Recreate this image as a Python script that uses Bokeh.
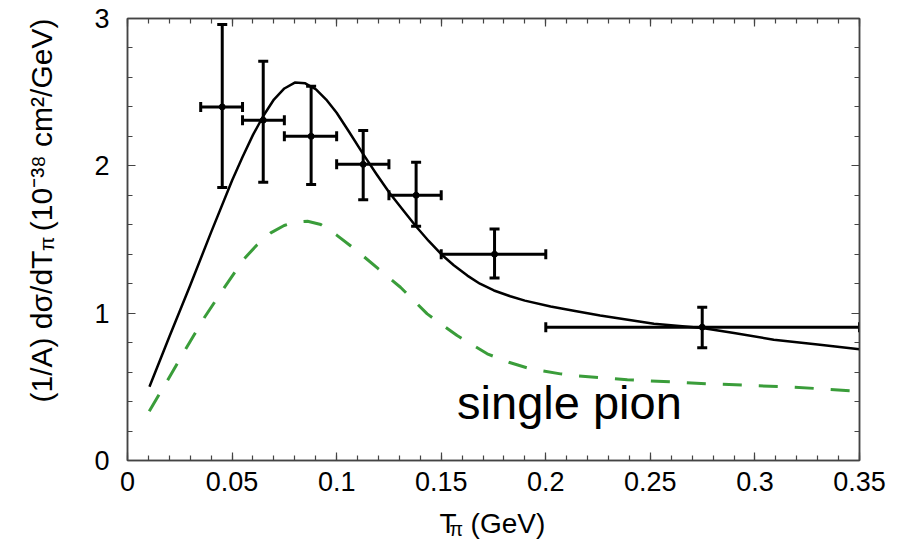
import math
from bokeh.plotting import figure
from bokeh.models import (Range1d, LinearAxis, FixedTicker, Label, Whisker, TeeHead,
                          ColumnDataSource, CustomJSTickFormatter)
from bokeh.embed import file_html
from bokeh.resources import INLINE

# ---------------- data ----------------
x_ticks = [0, 0.05, 0.1, 0.15, 0.2, 0.25, 0.3, 0.35]
x_minor = [round(i * 0.01, 2) for i in range(36)]
y_ticks = [0, 1, 2, 3]
y_minor = [round(i * 0.2, 1) for i in range(16)]

pt_x = [0.0453, 0.0649, 0.0878, 0.1127, 0.138, 0.1755, 0.2748]
pt_y = [2.40, 2.31, 2.20, 2.01, 1.80, 1.40, 0.905]
pt_y_hi = [2.96, 2.71, 2.54, 2.24, 2.025, 1.572, 1.04]
pt_y_lo = [1.853, 1.889, 1.873, 1.77, 1.59, 1.238, 0.765]
pt_x_lo = [0.035, 0.055, 0.075, 0.10, 0.125, 0.15, 0.20]
pt_x_hi = [0.055, 0.075, 0.10, 0.125, 0.15, 0.20, 0.35]

total_x = [0.0105, 0.02, 0.03, 0.04, 0.05, 0.055, 0.06, 0.065, 0.07, 0.075, 0.08, 0.085,
           0.09, 0.095, 0.1, 0.106, 0.1127, 0.119, 0.1254, 0.132, 0.138, 0.144, 0.15,
           0.156, 0.1625, 0.1685, 0.1752, 0.183, 0.19, 0.2023, 0.214, 0.226, 0.2517,
           0.2748, 0.29, 0.309, 0.33, 0.35]
total_y = [0.50, 0.84, 1.19, 1.55, 1.90, 2.06, 2.21, 2.34, 2.45, 2.525, 2.565, 2.56,
           2.52, 2.45, 2.36, 2.23, 2.08, 1.945, 1.814, 1.695, 1.588, 1.49, 1.40,
           1.325, 1.255, 1.20, 1.154, 1.115, 1.085, 1.045, 1.015, 0.984, 0.928,
           0.90, 0.865, 0.82, 0.788, 0.755]

single_x = [0.0104, 0.0191, 0.0279, 0.0367, 0.0462, 0.0558, 0.062, 0.0685, 0.0749, 0.08,
            0.0861, 0.0924, 0.1, 0.11, 0.12, 0.1305, 0.1433, 0.1576, 0.172, 0.1827, 0.1927,
            0.207, 0.2134, 0.239, 0.2788, 0.3186, 0.35]
single_y = [0.335, 0.543, 0.758, 0.969, 1.172, 1.369, 1.465, 1.545, 1.595, 1.618,
            1.624, 1.602, 1.53, 1.42, 1.30, 1.176, 0.995, 0.848, 0.724, 0.665, 0.622,
            0.588, 0.577, 0.548, 0.52, 0.498, 0.47]

FONT = "Liberation Sans"
TICK_FS = 27
XLAB_FS = 28
YLAB_FS = 30
GREEN = "#3a9d3a"
FRAME = "#444444"

p = figure(width=908, height=548, x_range=Range1d(0, 0.35), y_range=Range1d(0, 3),
           output_backend="svg", toolbar_location=None,
           min_border_left=127, min_border_right=49, min_border_top=18, min_border_bottom=88)
p.xgrid.visible = False
p.ygrid.visible = False
p.outline_line_color = FRAME
p.outline_line_width = 1.5
p.background_fill_color = "white"
p.border_fill_color = "white"

def style_axis(ax, ticks, minor, show_labels, standoff):
    ax.ticker = FixedTicker(ticks=ticks, minor_ticks=minor)
    ax.axis_line_color = FRAME
    ax.axis_line_width = 1.5
    ax.major_tick_in = 8
    ax.major_tick_out = 0
    ax.minor_tick_in = 5
    ax.minor_tick_out = 0
    ax.major_tick_line_color = FRAME
    ax.minor_tick_line_color = FRAME
    ax.major_tick_line_width = 1.2
    ax.minor_tick_line_width = 1.2
    ax.major_label_text_font = FONT
    ax.major_label_text_font_size = f"{TICK_FS}px"
    ax.major_label_text_color = "black"
    ax.major_label_standoff = standoff
    if not show_labels:
        ax.formatter = CustomJSTickFormatter(code="return ''")
        ax.major_label_standoff = 0

style_axis(p.xaxis[0], x_ticks, x_minor, True, 11)
style_axis(p.yaxis[0], y_ticks, y_minor, True, 18)
top_ax = LinearAxis()
right_ax = LinearAxis()
p.add_layout(top_ax, "above")
p.add_layout(right_ax, "right")
style_axis(top_ax, x_ticks, x_minor, False, 0)
style_axis(right_ax, y_ticks, y_minor, False, 0)

# curves
p.line(total_x, total_y, line_color="black", line_width=2.5, line_join="round")
p.line(single_x, single_y, line_color=GREEN, line_width=3, line_dash="19 17")

# data points with error bars
src = ColumnDataSource(dict(x=pt_x, y=pt_y, y_hi=pt_y_hi, y_lo=pt_y_lo, x_lo=pt_x_lo, x_hi=pt_x_hi))
p.add_layout(Whisker(source=src, base="x", upper="y_hi", lower="y_lo", dimension="height",
                     line_width=3, line_color="black",
                     upper_head=TeeHead(size=10, line_width=3, line_color="black"),
                     lower_head=TeeHead(size=10, line_width=3, line_color="black")))
p.add_layout(Whisker(source=src, base="y", upper="x_hi", lower="x_lo", dimension="width",
                     line_width=3, line_color="black",
                     upper_head=TeeHead(size=10, line_width=3, line_color="black"),
                     lower_head=TeeHead(size=10, line_width=3, line_color="black")))
p.scatter("x", "y", source=src, size=6, color="black")

p.add_layout(Label(x=0.1576, y=0.294, y_offset=15, text="single pion", text_font=FONT,
                   text_font_size="47px", text_color="black", text_baseline="alphabetic"))

# axis titles: pieces positioned in pixels relative to the frame's lower-left corner.
# (labels in side panels are not clipped by the frame)
def title_piece(text, size, dx, dy, angle, side):
    lab = Label(x=0, y=0, x_offset=dx, y_offset=dy, angle=angle, text=text,
                text_font=FONT, text_font_size=f"{size:.1f}px", text_color="black",
                text_align="left", text_baseline="alphabetic")
    p.add_layout(lab, side)

# y title: "(1/A) dσ/dT" + subscript π + "(10⁻³⁸ cm²/GeV)"
YSUB = YLAB_FS * 0.7
YB = -86          # baseline offset (x) from frame left
Y0 = 58           # start offset (up) from frame bottom
a_len = (0.333 + 0.556 + 0.278 + 0.667 + 0.333 + 0.278 + 0.556 + 0.6 + 0.278 + 0.556 + 0.611) * YLAB_FS
pi_len = 0.55 * YSUB
title_piece("(1/A) dσ/dT", YLAB_FS, YB, Y0, math.pi / 2, "left")
title_piece("π", YSUB, YB + 5, Y0 + a_len, math.pi / 2, "right")
title_piece("(10⁻³⁸ cm²/GeV)", YLAB_FS, YB, Y0 + a_len + pi_len + 0.278 * YLAB_FS, math.pi / 2, "left")

# x title: "T" + subscript π + "(GeV)"
XSUB = XLAB_FS * 0.7
XL = 312
XB = -63
title_piece("T\u2002(GeV)", XLAB_FS, XL, XB, 0, "below")
title_piece("π", XSUB, XL + 10, XB - 5, 0, "right")

open("out.html", "w").write(file_html(p, INLINE))
